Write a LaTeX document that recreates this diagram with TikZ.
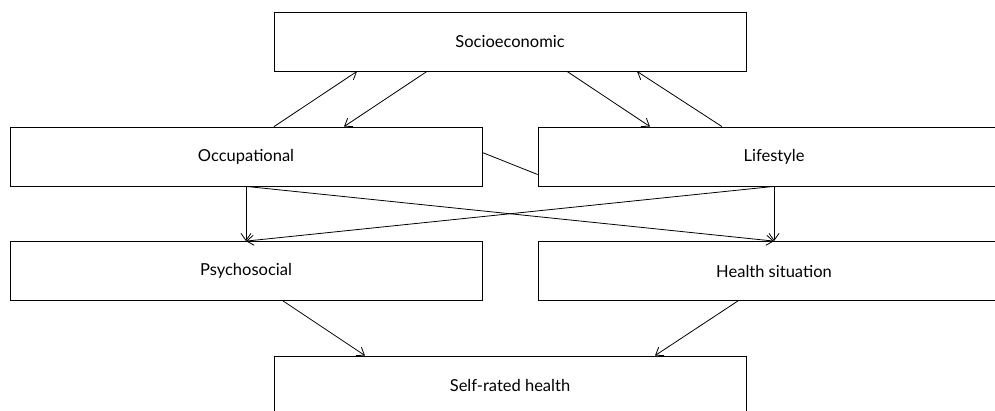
\documentclass[tikz,border=0pt]{standalone}
\usepackage{fontspec}
\setmainfont{Lato}
\usepackage{tikz}
\usetikzlibrary{arrows.meta}

\tikzset{
  factor/.style={draw, line width=0.8pt, minimum width=472pt, minimum height=59pt,
    inner sep=0pt, font=\fontsize{16.5}{19}\selectfont},
  link/.style={line width=0.8pt, -{Straight Barb[length=7pt, width=10pt]}}
}

\begin{document}
\begin{tikzpicture}[x=1pt, y=-1pt]
  \useasboundingbox (0,0) rectangle (995,410);
  \clip (0,0) rectangle (995,410);
  % Cadres des facteurs
  \node[factor] (socio) at (510, 41.5) {Socioeconomic};
  \node[factor] (occ) at (246, 156.5) {Occupational};
  \node[factor] (life) at (774, 156.5) {Lifestyle};
  \node[factor] (psych) at (246, 271) {Psychosocial};
  \node[factor] (health) at (774, 271) {Health situation};
  \node[factor] (self) at (510, 385.5) {Self-rated health};
  % Liens avec le niveau socio-economique
  \draw[link] ([xshift=28pt]occ.north) -- ([xshift=-153pt]socio.south);
  \draw[link] ([xshift=-83pt]socio.south) -- ([xshift=98pt]occ.north);
  \draw[link] ([xshift=57pt]socio.south) -- ([xshift=-124pt]life.north);
  \draw[link] ([xshift=-52pt]life.north) -- ([xshift=127pt]socio.south);
  % Lien sans fleche
  \draw[line width=0.8pt] ([yshift=4pt]occ.east) -- ([yshift=-18pt]life.west);
  % Fleches vers le niveau intermediaire
  \draw[link] (occ.south) -- (psych.north);
  \draw[link] (occ.south) -- (health.north);
  \draw[link] (life.south) -- (psych.north);
  \draw[link] (life.south) -- (health.north);
  % Fleches vers la sante percue
  \draw[link] ([xshift=37pt]psych.south) -- ([xshift=-145pt]self.north);
  \draw[link] ([xshift=-36pt]health.south) -- ([xshift=145pt]self.north);
\end{tikzpicture}
\end{document}
